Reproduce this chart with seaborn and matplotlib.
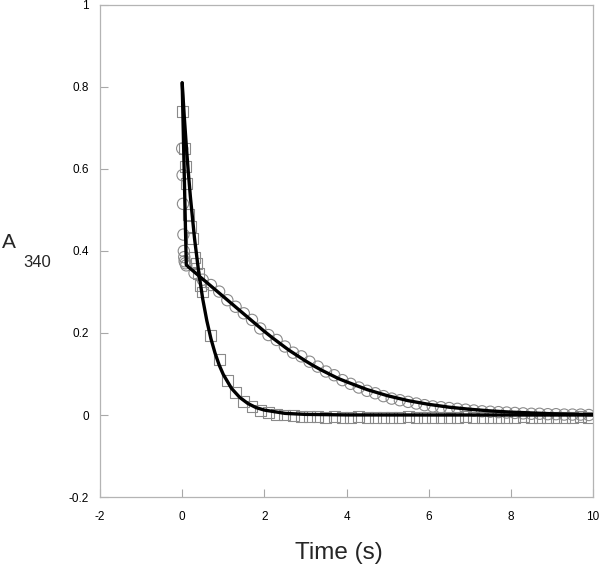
import pandas as pd
import matplotlib
matplotlib.use('Agg')
import matplotlib.pyplot as plt
import seaborn as sns

# sample times (s)
early_t_square = [0.0, 0.05, 0.08, 0.11, 0.16, 0.2, 0.25, 0.3, 0.35, 0.4, 0.45, 0.5]
early_t_circle = [0.0, 0.01, 0.02, 0.03, 0.04, 0.05, 0.06, 0.08, 0.1, 0.3, 0.5]
late_t = [0.7, 0.9, 1.1, 1.3, 1.5, 1.7, 1.9, 2.1, 2.3, 2.5, 2.7, 2.9, 3.1, 3.3, 3.5,
          3.7, 3.9, 4.1, 4.3, 4.5, 4.7, 4.9, 5.1, 5.3, 5.5, 5.7, 5.9, 6.1, 6.3, 6.5,
          6.7, 6.9, 7.1, 7.3, 7.5, 7.7, 7.9, 8.1, 8.3, 8.5, 8.7, 8.9, 9.1, 9.3, 9.5,
          9.7, 9.9]

# A340 data, squares
square_early = [0.74, 0.65, 0.605, 0.565, 0.49, 0.46, 0.43, 0.385, 0.37, 0.345, 0.315, 0.30]
square_late = [0.195, 0.135, 0.085, 0.055, 0.033, 0.020, 0.012, 0.006, 0.002, 0.000,
               -0.002, -0.003,
               -0.004, -0.004, -0.005, -0.004, -0.005, -0.005, -0.004, -0.005, -0.005, -0.006,
               -0.005, -0.005, -0.004, -0.005, -0.005, -0.006, -0.005, -0.005, -0.005, -0.004,
               -0.005, -0.005, -0.006, -0.005, -0.005, -0.005, -0.004, -0.005, -0.005, -0.005,
               -0.006, -0.005, -0.005, -0.004, -0.005]

# A340 data, circles
circle_early = [0.65, 0.585, 0.515, 0.44, 0.40, 0.385, 0.375, 0.37, 0.365, 0.346, 0.33]
circle_late = [0.317, 0.301, 0.28, 0.264, 0.248, 0.232, 0.211, 0.195, 0.183, 0.167,
               0.152, 0.143, 0.13, 0.118, 0.106, 0.097, 0.085, 0.076, 0.067, 0.059,
               0.053, 0.046, 0.040, 0.036, 0.032, 0.028, 0.024, 0.021, 0.019, 0.017,
               0.015, 0.013, 0.011, 0.009, 0.008, 0.007, 0.006, 0.005, 0.004, 0.003,
               0.003, 0.002, 0.002, 0.001, 0.001, 0.001, 0.0]

# fitted curves
fit_fast_t = [0, 0.05, 0.1, 0.15, 0.2, 0.3, 0.4, 0.5, 0.6, 0.7, 0.8, 0.9, 1.0, 1.2, 1.4,
              1.6, 1.8, 2.0, 2.5, 3.0, 4.0, 6.0, 8.0, 10.0]
fit_fast = [0.81, 0.729, 0.657, 0.591, 0.532, 0.431, 0.350, 0.283, 0.230, 0.186, 0.151,
            0.122, 0.099, 0.065, 0.043, 0.028, 0.018, 0.012, 0.004, 0.0015, 0.0002, 0, 0, 0]
fit_slow_t = [0, 0.1, 0.2, 0.4, 0.6, 0.8, 1.0, 1.2, 1.4, 1.6, 1.8, 2.0, 2.2, 2.4, 2.6,
              2.8, 3.0, 3.2, 3.4, 3.6, 3.8, 4.0, 4.5, 5.0, 5.5, 6.0, 6.5, 7.0, 7.5, 8.0,
              8.5, 9.0, 9.5, 10.0]
fit_slow = [0.81, 0.366, 0.357, 0.340, 0.323, 0.306, 0.289, 0.272, 0.255, 0.238, 0.221,
            0.204, 0.188, 0.173, 0.158, 0.145, 0.132, 0.120, 0.109, 0.099, 0.089, 0.081,
            0.062, 0.047, 0.035, 0.026, 0.019, 0.014, 0.010, 0.007, 0.005, 0.003, 0.002, 0.001]

x_ticks = [-2, 0, 2, 4, 6, 8, 10]
y_ticks = [-0.2, 0, 0.2, 0.4, 0.6, 0.8, 1]

sns.set_style('white')
plt.rcParams['font.family'] = ['Liberation Sans', 'DejaVu Sans']

squares = pd.DataFrame({'t': early_t_square + late_t, 'A': square_early + square_late})
circles = pd.DataFrame({'t': early_t_circle + late_t, 'A': circle_early + circle_late})

fig = plt.figure(figsize=(6, 5.66), dpi=100)
ax = fig.add_axes([0.1667, 0.1219, 0.8216, 0.8693])

sns.scatterplot(x='t', y='A', data=squares, marker='s', s=62, facecolor='none',
                edgecolor='#8a8a8a', linewidth=0.8, ax=ax, zorder=2)
sns.scatterplot(x='t', y='A', data=circles, marker='o', s=66, facecolor='none',
                edgecolor='#8a8a8a', linewidth=0.8, ax=ax, zorder=2)
sns.lineplot(x=fit_fast_t, y=fit_fast, color='black', linewidth=2.4, sort=False,
             estimator=None, ax=ax, zorder=3)
sns.lineplot(x=fit_slow_t, y=fit_slow, color='black', linewidth=2.4, sort=False,
             estimator=None, ax=ax, zorder=3)

ax.set_xlim(-2, 10)
ax.set_ylim(-0.2, 1)
ax.set_xticks(x_ticks)
ax.set_yticks(y_ticks)
ax.set_xticklabels([f'{v:g}' for v in x_ticks])
ax.set_yticklabels([f'{v:g}' for v in y_ticks])
ax.tick_params(bottom=True, left=True, top=False, right=False)
ax.tick_params(direction='in', length=6, width=0.8, color='#a8a8a8', labelsize=8.5,
               labelcolor='black')
ax.tick_params(axis='x', pad=10)
ax.tick_params(axis='y', pad=8)
for sp in ax.spines.values():
    sp.set_color('#b4b4b4')
    sp.set_linewidth(0.9)

ax.set_xlabel('Time (s)', fontsize=17.5)
ax.xaxis.set_label_coords(0.485, -0.092)
ax.set_ylabel('')
fig.text(0.015, 0.571, 'A', fontsize=15, ha='center', va='center')
fig.text(0.062, 0.537, '340', fontsize=12, ha='center', va='center')

fig.savefig('out.png', dpi=100)
